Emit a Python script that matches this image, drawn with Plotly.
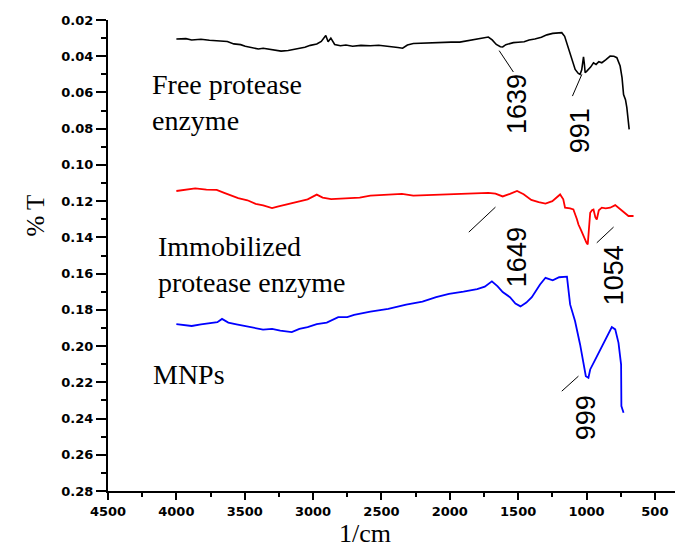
import plotly.graph_objects as go

# FTIR spectra (wavenumber in 1/cm, %T axis values)
free_wn = [4000, 3930, 3888, 3820, 3758, 3690, 3627, 3580, 3530, 3496, 3440, 3400, 3365, 3300,
           3234, 3182, 3130, 3104, 3060, 3020, 2973, 2940, 2907, 2890, 2870, 2842, 2800, 2760,
           2711, 2650, 2581, 2520, 2450, 2380, 2345, 2310, 2267, 2188, 2120, 2057, 1990, 1927,
           1880, 1820, 1770, 1718, 1690, 1660, 1630, 1613, 1590, 1560, 1535, 1500, 1456, 1420,
           1378, 1330, 1290, 1247, 1200, 1181, 1160, 1132, 1110, 1083, 1060, 1047, 1035, 1028,
           1022, 1016, 1010, 998, 985, 970, 949, 930, 910, 888, 860, 827, 800, 778, 754, 740,
           729, 715, 705, 695, 688]
free_t = [0.0305, 0.0303, 0.0310, 0.0306, 0.0312, 0.0316, 0.0319, 0.0332, 0.0336, 0.0345, 0.0352,
          0.0360, 0.0356, 0.0366, 0.0372, 0.0368, 0.0362, 0.0355, 0.0350, 0.0340, 0.0332, 0.0318,
          0.0286, 0.0320, 0.0300, 0.0335, 0.0342, 0.0338, 0.0345, 0.0340, 0.0342, 0.0339, 0.0344,
          0.0352, 0.0356, 0.0338, 0.0330, 0.0327, 0.0328, 0.0326, 0.0322, 0.0322, 0.0315, 0.0308,
          0.0298, 0.0294, 0.0310, 0.0335, 0.0348, 0.0349, 0.0336, 0.0328, 0.0325, 0.0323, 0.0320,
          0.0310, 0.0305, 0.0295, 0.0282, 0.0274, 0.0274, 0.0270, 0.0290, 0.0353, 0.0410, 0.0473,
          0.0495, 0.0500, 0.0475, 0.0420, 0.0404, 0.0440, 0.0491, 0.0482, 0.0473, 0.0460, 0.0436,
          0.0445, 0.0430, 0.0436, 0.0420, 0.0399, 0.0400, 0.0408, 0.0454, 0.0520, 0.0611, 0.0640,
          0.0684, 0.0750, 0.0804]

immob_wn = [4000, 3930, 3862, 3780, 3705, 3650, 3580, 3548, 3480, 3420, 3365, 3300, 3260, 3200,
            3156, 3100, 3040, 2973, 2930, 2868, 2800, 2711, 2659, 2581, 2450, 2350, 2267, 2136,
            2000, 1900, 1800, 1718, 1666, 1613, 1560, 1508, 1460, 1404, 1350, 1300, 1250, 1193,
            1170, 1157, 1120, 1096, 1070, 1059, 1040, 1022, 1000, 991, 980, 973, 960, 949, 935,
            925, 910, 888, 860, 827, 790, 770, 742, 720, 693, 656]
immob_t = [0.1144, 0.1139, 0.1130, 0.1136, 0.1138, 0.1154, 0.1175, 0.1183, 0.1195, 0.1215, 0.1223,
           0.1238, 0.1230, 0.1220, 0.1213, 0.1200, 0.1190, 0.1164, 0.1180, 0.1189, 0.1185, 0.1183,
           0.1180, 0.1170, 0.1164, 0.1160, 0.1170, 0.1167, 0.1162, 0.1160, 0.1157, 0.1154, 0.1158,
           0.1174, 0.1160, 0.1144, 0.1162, 0.1193, 0.1205, 0.1213, 0.1200, 0.1163, 0.1190, 0.1236,
           0.1240, 0.1246, 0.1300, 0.1329, 0.1360, 0.1393, 0.1430, 0.1439, 0.1300, 0.1264, 0.1250,
           0.1246, 0.1290, 0.1301, 0.1250, 0.1236, 0.1240, 0.1236, 0.1222, 0.1235, 0.1255, 0.1270,
           0.1282, 0.1282]

mnp_wn = [4000, 3940, 3888, 3820, 3760, 3700, 3666, 3620, 3560, 3496, 3430, 3366, 3300, 3240,
          3156, 3100, 3040, 2973, 2900, 2816, 2750, 2700, 2581, 2450, 2319, 2200, 2100, 2006,
          1900, 1800, 1744, 1692, 1650, 1613, 1560, 1520, 1483, 1440, 1400, 1378, 1340, 1300,
          1247, 1200, 1143, 1120, 1084, 1047, 1022, 1005, 986, 973, 940, 912, 880, 851, 815,
          790, 766, 747, 745, 729]
mnp_t = [0.1879, 0.1885, 0.1889, 0.1880, 0.1875, 0.1868, 0.1850, 0.1870, 0.1880, 0.1889, 0.1900,
         0.1909, 0.1905, 0.1915, 0.1923, 0.1905, 0.1895, 0.1879, 0.1870, 0.1840, 0.1840, 0.1828,
         0.1810, 0.1795, 0.1771, 0.1755, 0.1730, 0.1712, 0.1700, 0.1685, 0.1672, 0.1643, 0.1670,
         0.1702, 0.1730, 0.1765, 0.1781, 0.1760, 0.1730, 0.1702, 0.1660, 0.1623, 0.1637, 0.1620,
         0.1617, 0.1770, 0.1862, 0.1991, 0.2083, 0.2166, 0.2175, 0.2129, 0.2080, 0.2037, 0.1990,
         0.1945, 0.1895, 0.1908, 0.1982, 0.2102, 0.2331, 0.2368]

# peak labels: text, label position, leader line ends
peak_text = ["1639", "991", "1649", "1054", "999"]
peak_x = [1513, 1051, 1513, 802, 1007]
peak_y = [0.0662, 0.0811, 0.1507, 0.1612, 0.2396]
lead_x0 = [1639, 1034, 1861, 925, 1059]
lead_y0 = [0.0369, 0.0500, 0.1371, 0.1430, 0.2166]
lead_x1 = [1535, 1103, 1666, 802, 1181]
lead_y1 = [0.0487, 0.0620, 0.1233, 0.1343, 0.2249]

series_names = ["Free protease<br>enzyme", "Immobilized<br>protease enzyme", "MNPs"]
name_x = [4192, 4149, 4189]
name_y = [0.0657, 0.1551, 0.2159]

# plot area in page pixels
L, T, W, H = 100, 12, 579, 471

fig = go.Figure()
fig.add_trace(go.Scatter(x=free_wn, y=free_t, mode="lines", line=dict(color="black", width=1.6)))
fig.add_trace(go.Scatter(x=immob_wn, y=immob_t, mode="lines", line=dict(color="red", width=1.8)))
fig.add_trace(go.Scatter(x=mnp_wn, y=mnp_t, mode="lines", line=dict(color="blue", width=1.8)))

for i in range(len(peak_text)):
    fig.add_shape(type="line", x0=lead_x0[i], y0=lead_y0[i], x1=lead_x1[i], y1=lead_y1[i],
                  line=dict(color="black", width=1))
    fig.add_annotation(x=peak_x[i], y=peak_y[i], text=peak_text[i], showarrow=False, textangle=-90,
                       font=dict(family="Liberation Sans", size=27, color="black"))

for i in range(len(series_names)):
    fig.add_annotation(x=name_x[i], y=name_y[i], text=series_names[i], showarrow=False,
                       xanchor="left", align="left",
                       font=dict(family="Liberation Serif", size=28, color="black"))

# axis titles (paper coords = plot area)
fig.add_annotation(x=(11 - L) / W, y=1 - (208 - T) / H, xref="paper", yref="paper", text="% T",
                   showarrow=False, textangle=-90,
                   font=dict(family="Liberation Serif", size=25, color="black"))
fig.add_annotation(x=(357 - L) / W, y=1 - (541 - T) / H, xref="paper", yref="paper", text="1/cm",
                   showarrow=False, borderpad=0,
                   font=dict(family="Liberation Serif", size=26, color="black"))

tick_font = dict(family="DejaVu Sans", size=13, color="black", weight="bold")
fig.update_layout(
    width=683, height=556,
    margin=dict(l=L, r=683 - L - W, t=T, b=556 - T - H),
    plot_bgcolor="white", paper_bgcolor="white",
    showlegend=False,
    xaxis=dict(range=[4500, 265], showline=True, linecolor="black", linewidth=2,
               ticks="outside", ticklen=7, tickwidth=2, tickcolor="black",
               tick0=500, dtick=500, tickfont=tick_font, showgrid=False, zeroline=False,
               automargin=False,
               minor=dict(ticks="outside", dtick=250, ticklen=4, tickwidth=1.5, tickcolor="black")),
    yaxis=dict(range=[0.28, 0.02], showline=True, linecolor="black", linewidth=2,
               ticks="outside", ticklen=10, tickwidth=2, tickcolor="black",
               tick0=0, dtick=0.02, tickformat=".2f", tickfont=tick_font,
               showgrid=False, zeroline=False, automargin=False,
               minor=dict(ticks="outside", dtick=0.01, ticklen=5, tickwidth=1.5, tickcolor="black")),
)

fig.write_html("out.html")
